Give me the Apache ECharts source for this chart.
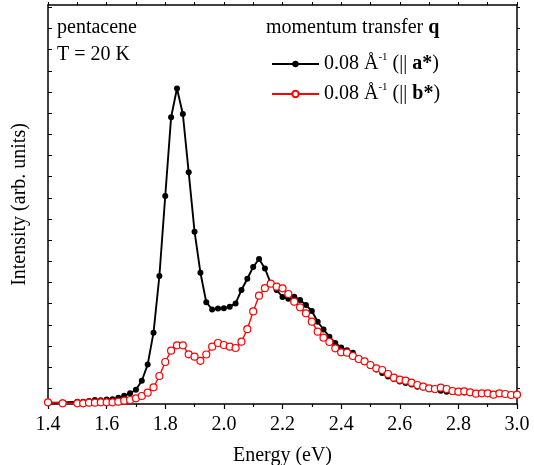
<!DOCTYPE html>
<html>
<head>
<meta charset="utf-8">
<script src="https://cdn.jsdelivr.net/npm/echarts@6/dist/echarts.min.js"></script>
<style>
html,body{margin:0;padding:0;background:#fff;}
#chart{width:534px;height:465px;}
</style>
</head>
<body>
<div id="chart"></div>
<script>
/* pentacene loss spectra, q = 0.08 1/A along a* and b* */
var FONT = '"Liberation Serif","DejaVu Serif",serif';

var energyA = [1.40,1.45,1.50,1.52,1.54,1.56,1.58,1.60,1.62,1.64,1.66,1.68,1.70,1.72,1.74,1.76,1.78,1.80,
  1.82,1.84,1.86,1.88,1.90,1.92,1.94,1.96,1.98,2.00,2.02,2.04,2.06,2.08,2.10,2.12,2.14,2.16,2.18,2.20,
  2.22,2.24,2.26,2.28,2.30,2.32,2.34,2.36,2.38,2.40,2.42,2.44,2.46,2.48,2.50,2.52,2.54,2.56,2.58,2.60,
  2.62,2.64,2.66,2.68,2.70,2.72,2.74,2.76,2.78,2.80,2.82,2.84,2.86,2.88,2.90,2.92,2.94,2.96,2.98,3.00];
var intensityA = [1.3,1.5,2.3,2.3,3.0,4.0,3.8,4.5,4.7,6.3,8.2,10.7,14.3,23.2,39.4,71.3,128,208,
  286.7,315.5,290,231.7,172.3,131.3,101.8,94.5,95.5,95.7,97.3,100.6,114,125.3,137,145,135.5,120.7,114,107,
  105.2,107.3,104,99,93,82.3,74.5,67.3,61,56.5,53.8,51.3,45.5,42,38,34.5,31,27.5,25,22.4,
  21,19.5,17.3,16.5,15,14,13.2,12.3,12,11.5,11.6,11,10.5,10.5,10.4,9.8,10,9.8,9.6,9.6];

var energyB = energyA;
var intensityB = [1.7,0.7,0.7,0.7,1.3,1.3,1.7,1.7,1.7,2.3,3.3,4.0,5.7,8.0,11.3,16.7,28,42,
  53.3,58.7,58.7,49.7,47.3,43.2,49.5,57.3,61,59,57.3,56,62.3,74.8,92.6,108.3,115.8,120.3,117.3,115.7,
  110,102.3,96.7,90.7,82.3,72.3,66.3,62,55.7,51.7,51.3,48,45,42.7,39,35.7,34,30,26.3,24.3,
  23.3,21.3,19,17.3,15.7,15,16.3,15,13,12.3,12.7,11.7,10.3,10.7,10.7,9.3,10.7,10,9,9.3];

var yTicks = [];
for (var k = 0; k < 19; k++) yTicks.push(15.7 + 21.17 * k);

function pairs(xs, ys){ return xs.map(function(x,i){ return [x, ys[i]]; }); }

var chart = echarts.init(document.getElementById('chart'), null, {renderer:'canvas'});
chart.setOption({
  animation:false,
  backgroundColor:'#fff',
  textStyle:{fontFamily:FONT},
  grid:{left:48, right:17, top:5, bottom:61, containLabel:false, outerBoundsMode:'none'},
  graphic:[
    {type:'text', left:57, top:14, style:{text:'pentacene\nT = 20 K', font:'20px '+FONT, lineHeight:27, fill:'#000'}},
    {type:'text', left:266, top:14, style:{text:'momentum transfer {b|q}', font:'20px '+FONT, lineHeight:27, fill:'#000',
      rich:{b:{fontWeight:'bold', fontSize:20, fontFamily:FONT}}}}
  ],
  legend:{
    orient:'vertical', left:266, top:47, itemWidth:47, itemHeight:8, itemGap:8, itemTextGap:5,
    selectedMode:false,
    textStyle:{fontFamily:FONT, fontSize:20, color:'#000',
      rich:{
        sup:{fontFamily:FONT, fontSize:11, verticalAlign:'bottom', padding:[0,0,13,0]},
        b:{fontFamily:FONT, fontSize:20, fontWeight:'bold'}
      }},
    formatter:function(name){
      return '0.08 Å{sup|-1} (|| {b|' + name + '})';
    },
    data:['a*','b*']
  },
  xAxis:[{
    type:'value', min:1.4, max:3.0, interval:0.2,
    axisLine:{onZero:false, lineStyle:{color:'#000', width:1.5}},
    axisTick:{length:5, lineStyle:{color:'#000', width:1.2}},
    minorTick:{show:true, splitNumber:2, length:3, lineStyle:{color:'#000', width:1.2}},
    axisLabel:{color:'#000', fontSize:20, fontFamily:FONT, margin:11,
      formatter:function(v){ return v.toFixed(1); }},
    splitLine:{show:false},
    name:'Energy (eV)', nameLocation:'middle', nameGap:42,
    nameTextStyle:{color:'#000', fontSize:20, fontFamily:FONT}
  },{
    type:'value', position:'top', min:1.4, max:3.0, interval:0.1,
    axisLine:{show:true, onZero:false, lineStyle:{color:'#000', width:1.5}},
    axisTick:{show:true, length:3, lineStyle:{color:'#000', width:1}},
    axisLabel:{show:false}, splitLine:{show:false}
  }],
  yAxis:[{
    type:'value', min:0, max:399,
    axisLine:{show:true, onZero:false, lineStyle:{color:'#000', width:1.5}},
    axisTick:{show:true, inside:true, length:4, customValues:yTicks, lineStyle:{color:'#000', width:1}},
    axisLabel:{show:false}, splitLine:{show:false},
    name:'Intensity (arb. units)', nameLocation:'middle', nameGap:18,
    nameTextStyle:{color:'#000', fontSize:20, fontFamily:FONT}
  },{
    type:'value', position:'right', min:0, max:399,
    axisLine:{show:true, onZero:false, lineStyle:{color:'#000', width:1.5}},
    axisTick:{show:true, length:3, customValues:yTicks, lineStyle:{color:'#000', width:1}},
    axisLabel:{show:false}, splitLine:{show:false}
  }],
  series:[{
    name:'a*', type:'line', data:pairs(energyA, intensityA),
    symbol:'circle', symbolSize:6,
    lineStyle:{color:'#000', width:1.9},
    itemStyle:{color:'#000', borderWidth:0},
    emphasis:{disabled:true}, z:2
  },{
    name:'b*', type:'line', data:pairs(energyB, intensityB),
    symbol:'circle', symbolSize:7,
    lineStyle:{color:'#ff0000', width:1.4},
    itemStyle:{color:'#fff', borderColor:'#ff0000', borderWidth:1.2},
    emphasis:{disabled:true}, z:3
  }]
});
</script>
</body>
</html>
